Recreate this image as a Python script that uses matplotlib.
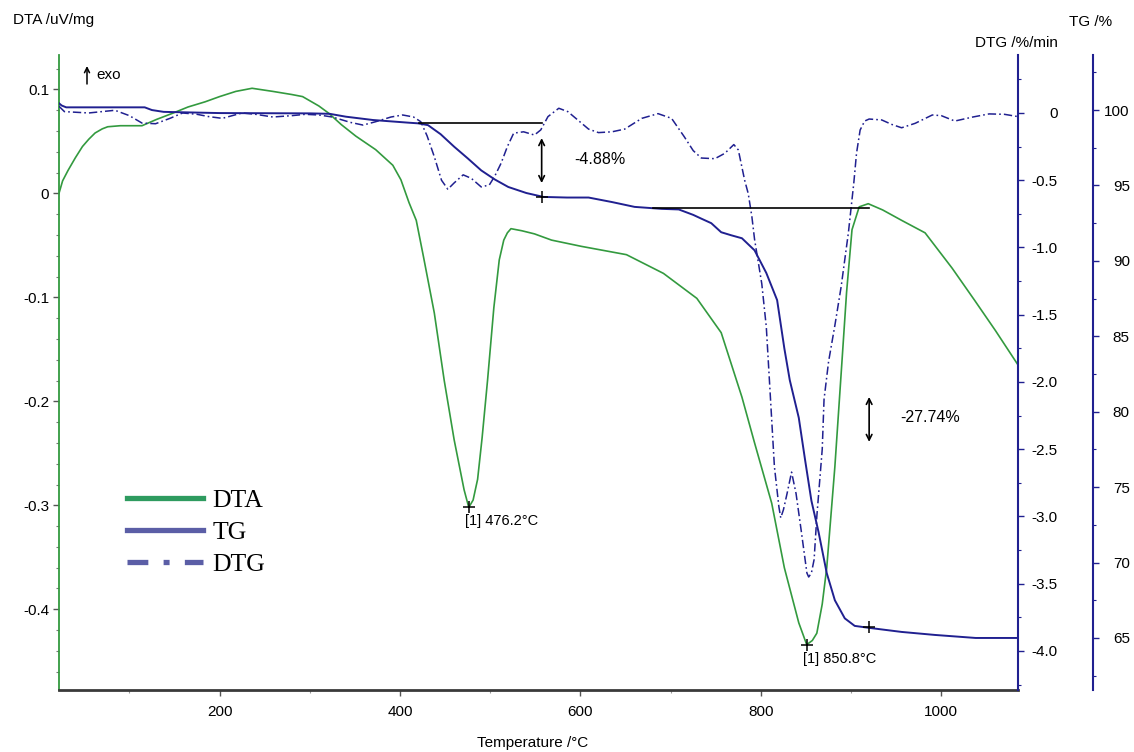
import matplotlib
matplotlib.use("Agg")
import matplotlib.pyplot as plt
from matplotlib.ticker import MultipleLocator, FuncFormatter
from matplotlib.lines import Line2D

plt.rcParams["font.family"] = ["Liberation Sans", "DejaVu Sans"]
plt.rcParams["axes.unicode_minus"] = False
plt.rcParams["lines.scale_dashes"] = False

# DTA signal (uV/mg) against temperature (deg C)
T_dta = [22, 26, 32, 40, 48, 55, 62, 70, 76, 90, 114, 130, 148, 165, 184, 200, 218, 236, 259, 280,
         292, 310, 321, 335, 351, 373, 392, 401, 410, 418, 426, 438, 449, 460, 471, 476.2, 481, 486, 491, 497,
         504, 510, 515, 519, 523, 535, 549, 568, 601, 651, 692, 729, 756, 779, 793, 812, 826, 842, 850.8, 857,
         862, 868, 873, 882, 890, 895, 901, 909, 919, 935, 956, 982, 1012, 1037, 1060, 1085]
dta = [0.000, 0.012, 0.022, 0.034, 0.045, 0.052, 0.058, 0.062, 0.064, 0.065, 0.065, 0.071, 0.077, 0.083, 0.088, 0.093, 0.098, 0.101, 0.098, 0.095,
       0.093, 0.084, 0.077, 0.066, 0.055, 0.042, 0.027, 0.013, -0.009, -0.026, -0.061, -0.115, -0.180, -0.237, -0.285, -0.302, -0.295, -0.275, -0.235, -0.180,
       -0.110, -0.064, -0.045, -0.038, -0.034, -0.036, -0.039, -0.045, -0.051, -0.059, -0.077, -0.101, -0.134, -0.196, -0.240, -0.298, -0.360, -0.413, -0.434, -0.430,
       -0.423, -0.395, -0.360, -0.263, -0.160, -0.095, -0.035, -0.013, -0.010, -0.016, -0.026, -0.038, -0.072, -0.103, -0.132, -0.165]

# TG mass (%)
T_tg = [22, 25, 30, 117, 125, 138, 200, 300, 322, 340, 370, 410, 420, 431, 445, 460, 475, 490, 505, 520,
        540, 559, 585, 609, 635, 660, 690, 709, 725, 734, 745, 756, 767, 779, 793, 806, 818, 826, 832, 842,
        849, 856, 864, 873, 882, 893, 904, 920, 956, 993, 1038, 1085]
tg = [100.45, 100.30, 100.18, 100.18, 100.00, 99.88, 99.80, 99.78, 99.75, 99.56, 99.34, 99.16, 99.12, 99.00, 98.40, 97.57, 96.80, 96.00, 95.40, 94.90,
      94.50, 94.24, 94.20, 94.20, 93.90, 93.58, 93.45, 93.41, 93.05, 92.80, 92.50, 91.90, 91.70, 91.50, 90.70, 89.20, 87.40, 84.20, 82.10, 79.60,
      76.80, 74.10, 72.00, 69.30, 67.50, 66.30, 65.80, 65.67, 65.40, 65.20, 65.00, 65.00]

# DTG rate (%/min)
T_dtg = [22, 28, 55, 84, 100, 114, 129, 145, 159, 175, 188, 203, 225, 240, 259, 280, 295, 310, 325, 345,
         359, 373, 390, 403, 415, 423, 430, 438, 446, 453, 460, 470, 479, 490, 499, 505, 512, 519, 526, 537,
         549, 556, 564, 576, 586, 597, 609, 620, 635, 649, 668, 686, 701, 715, 725, 734, 749, 760, 770, 775,
         782, 786, 790, 793, 801, 806, 810, 815, 820, 822, 825, 829, 834, 839, 845, 851, 853, 856, 859, 862,
         868, 870, 875, 882, 889, 897, 903, 906, 910, 915, 920, 934, 945, 956, 971, 990, 1000, 1015, 1035, 1053,
         1070, 1085]
dtg = [0.05, 0.01, 0.0, 0.02, -0.02, -0.075, -0.08, -0.04, 0.0, -0.01, -0.027, -0.04, 0.0, -0.01, -0.03, -0.02, -0.01, -0.015, -0.03, -0.07,
       -0.09, -0.065, -0.03, -0.015, -0.03, -0.065, -0.17, -0.325, -0.50, -0.567, -0.52, -0.46, -0.486, -0.55, -0.535, -0.47, -0.374, -0.25, -0.15, -0.14,
       -0.164, -0.126, -0.027, 0.035, 0.01, -0.052, -0.12, -0.146, -0.14, -0.12, -0.04, -0.005, -0.04, -0.176, -0.28, -0.335, -0.34, -0.30, -0.235, -0.275,
       -0.50, -0.60, -0.77, -0.94, -1.27, -1.59, -2.05, -2.63, -2.93, -3.01, -2.95, -2.83, -2.67, -2.83, -3.12, -3.42, -3.45, -3.42, -3.32, -3.0,
       -2.5, -2.13, -1.85, -1.58, -1.29, -0.89, -0.52, -0.30, -0.127, -0.06, -0.045, -0.052, -0.085, -0.11, -0.077, -0.015, -0.02, -0.06, -0.03, -0.007,
       -0.01, -0.027]

# DTA peak temperatures and depths
peak_T = [476.2, 850.8]
peak_dta = [-0.302, -0.434]

# TG mass-loss steps: start T, end T, level before, level after
step_T = [(421, 557), (680, 920)]
step_levels = [(99.12, 94.24), (93.49, 65.75)]

green = "#339a3f"
navy = "#202090"

W, H = 1134, 752
fig = plt.figure(figsize=(W / 100, H / 100), dpi=100)


def fx(px):
    return px / W


def fy(py):
    return 1 - py / H


ax = fig.add_axes([fx(59), fy(690), fx(1018) - fx(59), fy(55) - fy(690)])
ax_dtg = ax.twinx()
ax_tg = ax.twinx()

ax.plot(T_dta, dta, color=green, lw=1.2)
ax_tg.plot(T_tg, tg, color=navy, lw=1.4)
ax_dtg.plot(T_dtg, dtg, color=navy, lw=1.1, linestyle=(0, (6, 2.2, 1.2, 2.2)))

ax.set_xlim(22, 1085)
ax.set_ylim(-0.4776, 0.133)
ax_dtg.set_ylim(-4.290, 0.431)
ax_tg.set_ylim(61.55, 103.65)

# spines
for s in ["top", "right"]:
    ax.spines[s].set_visible(False)
ax.spines["left"].set_color(green)
ax.spines["left"].set_linewidth(1.3)
ax.spines["bottom"].set_color("#3a3a3a")
ax.spines["bottom"].set_linewidth(2)
for a in (ax_dtg, ax_tg):
    for s in ["top", "left", "bottom"]:
        a.spines[s].set_visible(False)
    a.spines["right"].set_color(navy)
    a.spines["right"].set_linewidth(1.5)
ax_tg.spines["right"].set_position(("axes", (1093 - 59) / (1018 - 59)))

# ticks
ax.xaxis.set_major_locator(MultipleLocator(200))
ax.xaxis.set_minor_locator(MultipleLocator(100))
ax.yaxis.set_major_locator(MultipleLocator(0.1))
ax.yaxis.set_minor_locator(MultipleLocator(0.02))
ax_dtg.yaxis.set_major_locator(MultipleLocator(0.5))
ax_dtg.yaxis.set_minor_locator(MultipleLocator(0.25))
ax_tg.yaxis.set_major_locator(MultipleLocator(5))
ax_tg.yaxis.set_minor_locator(MultipleLocator(2.5))

zero_fmt = FuncFormatter(lambda v, p: "0" if abs(v) < 1e-9 else f"{v:.1f}")
ax.yaxis.set_major_formatter(zero_fmt)
ax_dtg.yaxis.set_major_formatter(zero_fmt)
ax_tg.yaxis.set_major_formatter(FuncFormatter(lambda v, p: f"{v:.0f}"))

ax.tick_params(axis="x", which="major", direction="out", length=4, width=1, color="#555555", labelsize=11, pad=7)
ax.tick_params(axis="x", which="minor", direction="out", length=2.5, width=0.8, color="#999999")
ax.tick_params(axis="y", which="major", direction="out", length=4, width=1, color="#555555", labelsize=11, pad=3)
ax.tick_params(axis="y", which="minor", direction="out", length=2, width=0.8, color="#777777")
ax_dtg.tick_params(axis="y", which="major", direction="out", length=4, width=1, color=navy, labelsize=11, pad=24.5)
ax_dtg.tick_params(axis="y", which="minor", direction="out", length=2.5, width=0.8, color=navy)
ax_tg.tick_params(axis="y", which="major", direction="out", length=4, width=1, color=navy, labelsize=11, pad=22.5)
ax_tg.tick_params(axis="y", which="minor", direction="out", length=2.5, width=0.8, color=navy)
plt.setp(ax_dtg.get_yticklabels(), ha="right")
plt.setp(ax_tg.get_yticklabels(), ha="right")

# axis titles
fig.text(fx(13), fy(20), "DTA /uV/mg", fontsize=11, va="center", ha="left")
fig.text(fx(1091), fy(22), "TG /%", fontsize=11, va="center", ha="center")
fig.text(fx(1016), fy(43), "DTG /%/min", fontsize=11, va="center", ha="center")
fig.text(fx(533), fy(743), "Temperature /°C", fontsize=11, va="center", ha="center")

# exo direction marker
fig.add_artist(plt.Annotation("", xy=(fx(87), fy(66)), xytext=(fx(87), fy(84)),
                              xycoords="figure fraction", textcoords="figure fraction",
                              arrowprops=dict(arrowstyle="->", color="black", lw=1.1,
                                              shrinkA=0, shrinkB=0, mutation_scale=9)))
fig.text(fx(96), fy(75), "exo", fontsize=11, va="center", ha="left")

# DTA peaks
ax.plot(peak_T, peak_dta, "+", color="black", ms=8, mew=1.1)
for t, v in zip(peak_T, peak_dta):
    ax.annotate(f"[1] {t:.1f}°C", xy=(t, v), xytext=(-4, -14), textcoords="offset pixels",
                fontsize=10.5, ha="left", va="center")

# TG mass-loss steps
arrow_spans = [(98.14, 95.16), (80.98, 78.0)]
text_pos = [(593, 96.69), (954, 79.6)]
for (t0, t1), (hi, lo), (a_top, a_bot), (tx, ty) in zip(step_T, step_levels, arrow_spans, text_pos):
    ax_tg.plot([t0, t1], [hi, hi], color="black", lw=1.2)
    ax_tg.plot([t1], [lo], "+", color="black", ms=9, mew=1.1)
    ax_tg.annotate("", xy=(t1, a_top), xytext=(t1, a_bot),
                   arrowprops=dict(arrowstyle="<->", color="black", lw=1.2,
                                   shrinkA=0, shrinkB=0, mutation_scale=10))
    ax_tg.text(tx, ty, f"{lo - hi:.2f}%", fontsize=11.5, ha="left", va="center")

# legend
handles = [
    Line2D([], [], color="#2e9b5f", lw=3.8),
    Line2D([], [], color="#5b5ea6", lw=3.8),
    Line2D([], [], color="#5b5ea6", lw=3.8, linestyle=(0, (15, 11, 4.3, 11)), dash_capstyle="butt"),
]
fig.legend(handles, ["DTA", "TG", "DTG"], loc="upper left", bbox_to_anchor=(fx(127), fy(489)),
           frameon=False, borderpad=0, borderaxespad=0, handlelength=2.95, handletextpad=0.38,
           labelspacing=0.36, prop={"family": "Liberation Serif", "size": 18.5})

fig.savefig("out.png", dpi=100)
